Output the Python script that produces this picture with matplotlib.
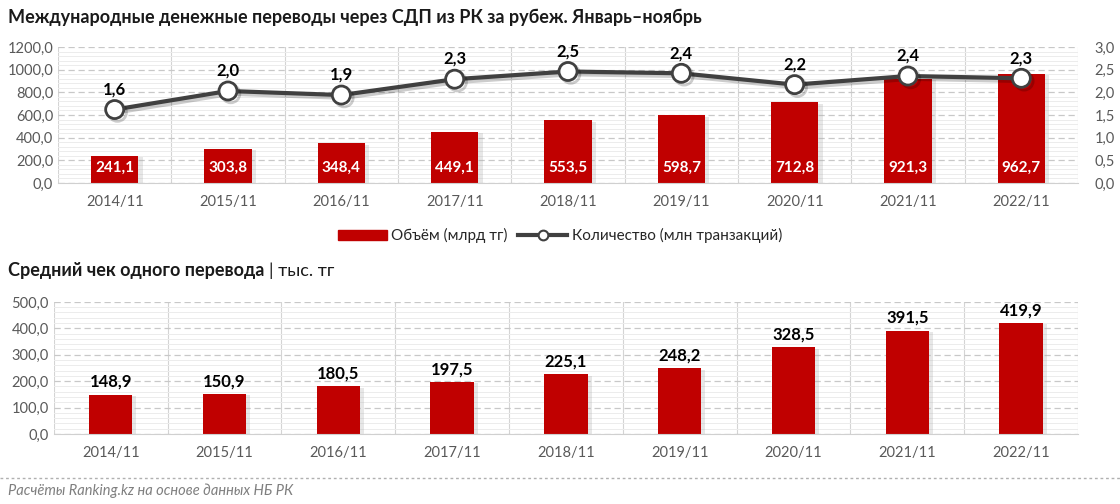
import numpy as np
import matplotlib
matplotlib.use("Agg")
import matplotlib.pyplot as plt
from matplotlib.ticker import MultipleLocator, FuncFormatter
import matplotlib.patheffects as pe
from matplotlib.lines import Line2D
from matplotlib.patches import Patch

plt.rcParams['font.family'] = ['Lato', 'DejaVu Sans']

# data
periods = ["2014/11", "2015/11", "2016/11", "2017/11", "2018/11",
           "2019/11", "2020/11", "2021/11", "2022/11"]
volume = [241.1, 303.8, 348.4, 449.1, 553.5, 598.7, 712.8, 921.3, 962.7]
count = [1.6, 2.0, 1.9, 2.3, 2.5, 2.4, 2.2, 2.4, 2.3]
count_plot = [1.62, 2.03, 1.94, 2.29, 2.46, 2.42, 2.17, 2.36, 2.31]
avg_check = [148.9, 150.9, 180.5, 197.5, 225.1, 248.2, 328.5, 391.5, 419.9]

RED = "#C00000"
LINE = "#404040"
TXT = "#595959"

def comma(v, dec=1):
    return f"{v:.{dec}f}".replace(".", ",")

def style_grid(ax, major, minor):
    ax.yaxis.set_major_locator(MultipleLocator(major))
    ax.yaxis.set_minor_locator(MultipleLocator(minor))
    ax.grid(axis='y', which='minor', color='#ececec', lw=0.7)
    ax.grid(axis='y', which='major', color='#c8c8c8', lw=0.9, ls=(0, (5, 3)))
    ax.set_axisbelow(True)
    for s in ['top', 'right', 'left']:
        ax.spines[s].set_visible(False)
    ax.spines['bottom'].set_color('#d0d0d0')
    ax.tick_params(axis='both', which='both', length=0, colors=TXT, labelsize=10.5)
    n = len(periods)
    for k in range(n + 1):
        ax.axvline(k - 0.5, color='#d4d4d4', lw=0.8, zorder=0.5)
    ax.set_xlim(-0.5, n - 0.5)
    ax.set_xticks(range(n))
    ax.set_xticklabels(periods)

shadow = [pe.SimplePatchShadow(offset=(3, -1), shadow_rgbFace='#b0b0b0', alpha=0.3), pe.Normal()]

fig = plt.figure(figsize=(11.2, 5.04), dpi=100)

# top chart
ax1 = fig.add_axes([0.0518, 0.637, 0.9107, 0.2697])
x = np.arange(len(periods))
ax1.bar(x, volume, width=0.42, color=RED, zorder=2, path_effects=shadow)
ax1.set_ylim(0, 1200)
style_grid(ax1, 200, 40)
ax1.yaxis.set_major_formatter(FuncFormatter(lambda v, p: comma(v)))
ax1.tick_params(axis='x', pad=9)
for xi, v in zip(x, volume):
    ax1.text(xi, 135, comma(v), ha='center', va='center', color='white',
             fontsize=11, fontweight='bold', zorder=3)

ax2 = ax1.twinx()
ax2.set_ylim(0, 3)
ax2.yaxis.set_major_locator(MultipleLocator(0.5))
ax2.yaxis.set_major_formatter(FuncFormatter(lambda v, p: comma(v)))
ax2.tick_params(axis='y', length=0, colors=TXT, labelsize=10.5, pad=12)
for s in ax2.spines.values():
    s.set_visible(False)
ax2.plot(x, count_plot, color=LINE, lw=3, marker='o', ms=13, mfc='white',
         mec=LINE, mew=2, zorder=4,
         path_effects=[pe.SimpleLineShadow(offset=(2, -2), alpha=0.2), pe.Normal()])
for xi, yv, lab in zip(x, count_plot, count):
    ax2.text(xi, yv + 0.27, comma(lab), ha='center', va='bottom', color='black',
             fontsize=12, fontweight='bold')

handles = [Patch(color=RED),
           Line2D([0], [0], color=LINE, lw=3, marker='o', ms=7, mfc='white', mec=LINE, mew=1.5)]
fig.legend(handles, ["Объём (млрд тг)", "Количество (млн транзакций)"],
           loc='center', bbox_to_anchor=(0.5, 0.532), ncol=2, frameon=False,
           fontsize=11, handlelength=3.2, handletextpad=0.3, columnspacing=0.7,
           labelcolor='#262626')

# bottom chart
ax3 = fig.add_axes([0.048, 0.139, 0.9145, 0.262])
ax3.bar(x, avg_check, width=0.38, color=RED, zorder=2, path_effects=shadow)
ax3.set_ylim(0, 500)
style_grid(ax3, 100, 20)
ax3.yaxis.set_major_formatter(FuncFormatter(lambda v, p: comma(v)))
ax3.tick_params(axis='x', pad=9)
for xi, v in zip(x, avg_check):
    ax3.text(xi, v + 18, comma(v), ha='center', va='bottom', color='black',
             fontsize=12, fontweight='bold')

# titles
fig.text(0.007, 0.965, "Международные денежные переводы через СДП из РК за рубеж. Январь–ноябрь",
         fontsize=13, fontweight='bold', color='#1a1a1a', va='center')
t = fig.text(0.007, 0.463, "Средний чек одного перевода", fontsize=13,
             fontweight='bold', color='#1a1a1a', va='center')
fig.canvas.draw()
bb = t.get_window_extent()
fig.text(bb.x1 / fig.bbox.width + 0.004, 0.463, "| тыс. тг", fontsize=13,
         color='#1a1a1a', va='center')

# separator and source
fig.add_artist(Line2D([0, 1], [0.052, 0.052], color='#b0b0b0', lw=1, ls=(0, (2, 2))))
fig.text(0.007, 0.027, "Расчёты Ranking.kz на основе данных НБ РК", fontsize=10.5,
         style='italic', color='#7f7f7f', va='center')

fig.savefig("out.png", dpi=100)
